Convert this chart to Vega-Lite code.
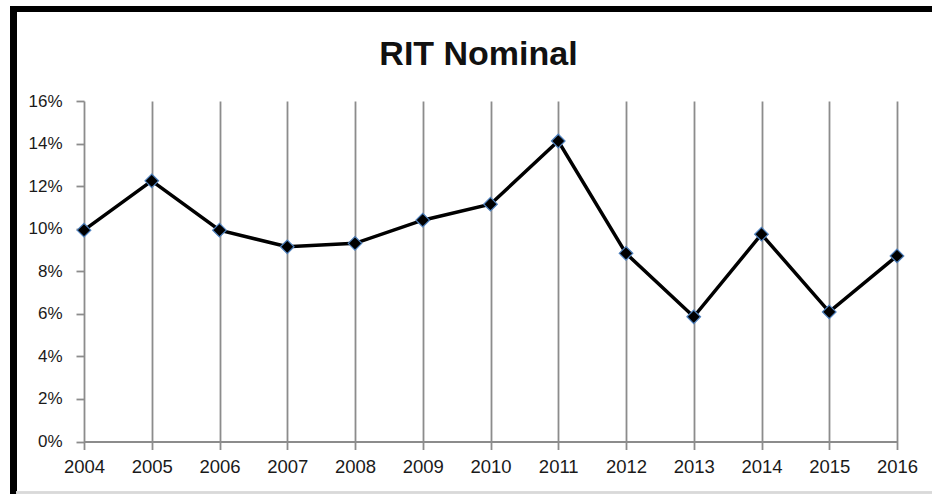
{
  "$schema": "https://vega.github.io/schema/vega-lite/v6.json",
  "autosize": {"type": "none"},
  "width": 813,
  "height": 340.5,
  "padding": {"left": 84, "top": 101, "right": 35, "bottom": 52.5},
  "background": "white",
  "config": {"view": {"stroke": null}},
  "title": {
    "text": "RIT Nominal",
    "font": "Liberation Sans",
    "fontSize": 34,
    "fontWeight": "bold",
    "color": "#111111",
    "anchor": "middle",
    "frame": "group",
    "dx": -12,
    "offset": -96,
    "baseline": "alphabetic"
  },
  "data": {
    "values": [
      {"year": 2004, "value": 0.0993},
      {"year": 2005, "value": 0.1225},
      {"year": 2006, "value": 0.0993},
      {"year": 2007, "value": 0.0915},
      {"year": 2008, "value": 0.0931},
      {"year": 2009, "value": 0.1040},
      {"year": 2010, "value": 0.1115},
      {"year": 2011, "value": 0.1412},
      {"year": 2012, "value": 0.0884},
      {"year": 2013, "value": 0.0586},
      {"year": 2014, "value": 0.0974},
      {"year": 2015, "value": 0.0609},
      {"year": 2016, "value": 0.0872}
    ]
  },
  "layer": [
    {
      "mark": {"type": "rule", "color": "black", "strokeWidth": 6, "strokeCap": "butt"},
      "encoding": {
        "x": {"datum": 2002.916, "type": "quantitative"},
        "x2": {"datum": 2020},
        "y": {"datum": 0.2032, "type": "quantitative"}
      }
    },
    {
      "mark": {"type": "rule", "color": "black", "strokeWidth": 6, "strokeCap": "butt"},
      "encoding": {
        "x": {"datum": 2002.96, "type": "quantitative"},
        "y": {"datum": 0.2046, "type": "quantitative"},
        "y2": {"datum": -0.06}
      }
    },
    {
      "mark": {"type": "rule", "color": "#d9d9d9", "strokeWidth": 1.5},
      "encoding": {
        "x": {"datum": 2003.0, "type": "quantitative"},
        "x2": {"datum": 2020},
        "y": {"datum": -0.024, "type": "quantitative"}
      }
    },
    {
      "mark": {"type": "line", "color": "black", "strokeWidth": 3.5},
      "encoding": {
        "x": {
          "field": "year",
          "type": "quantitative",
          "scale": {"domain": [2004, 2016], "nice": false, "zero": false},
          "axis": {
            "values": [2004, 2005, 2006, 2007, 2008, 2009, 2010, 2011, 2012, 2013, 2014, 2015, 2016],
            "format": "d",
            "title": null,
            "grid": true,
            "gridColor": "#8c8c8c",
            "gridWidth": 1.8,
            "gridOpacity": 1,
            "domainColor": "#8c8c8c",
            "domainWidth": 1.8,
            "tickColor": "#8c8c8c",
            "tickWidth": 1.8,
            "tickSize": 8,
            "labelFont": "Liberation Sans",
            "labelFontSize": 18.5,
            "labelColor": "#1a1a1a",
            "labelPadding": 8,
            "labelFlush": false
          }
        },
        "y": {
          "field": "value",
          "type": "quantitative",
          "scale": {"domain": [0, 0.16], "nice": false},
          "axis": {
            "values": [0, 0.02, 0.04, 0.06, 0.08, 0.1, 0.12, 0.14, 0.16],
            "format": ".0%",
            "title": null,
            "grid": false,
            "domain": false,
            "tickColor": "#8c8c8c",
            "tickWidth": 1.8,
            "tickSize": 8,
            "labelFont": "Liberation Sans",
            "labelFontSize": 17,
            "labelColor": "#1a1a1a",
            "labelPadding": 14
          }
        }
      }
    },
    {
      "mark": {"type": "point", "shape": "diamond", "filled": true, "fill": "black", "stroke": "#4f81bd", "strokeWidth": 1.2, "size": 185, "opacity": 1},
      "encoding": {
        "x": {"field": "year", "type": "quantitative"},
        "y": {"field": "value", "type": "quantitative"}
      }
    }
  ]
}
